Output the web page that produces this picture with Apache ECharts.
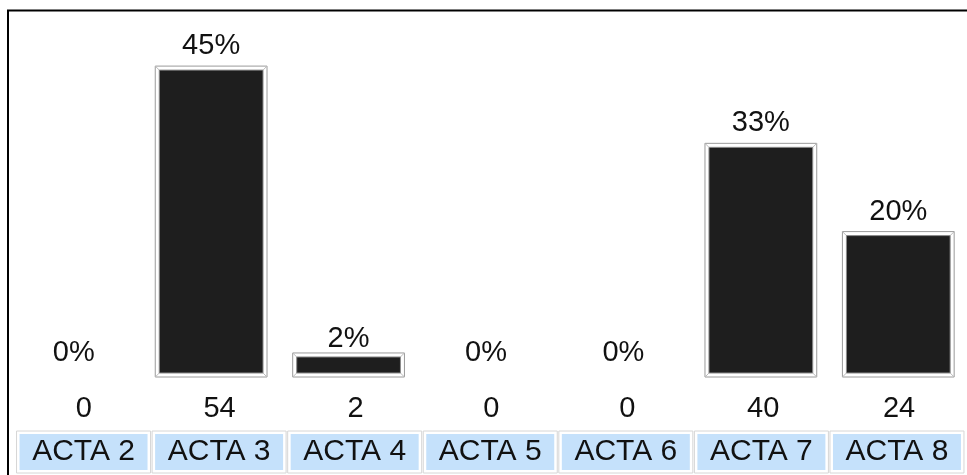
<!DOCTYPE html>
<html>
<head>
<meta charset="utf-8">
<script src="https://cdn.jsdelivr.net/npm/echarts@6/dist/echarts.min.js"></script>
<style>html,body{margin:0;padding:0;background:#fff;}#c{width:967px;height:475px;}</style>
</head>
<body>
<div id="c"></div>
<script>
const categories = ['ACTA 2', 'ACTA 3', 'ACTA 4', 'ACTA 5', 'ACTA 6', 'ACTA 7', 'ACTA 8'];
const counts = [0, 54, 2, 0, 0, 40, 24];
const percents = [0, 45, 2, 0, 0, 33, 20];

const FONT = '"Liberation Sans", Arial, sans-serif';
const chart = echarts.init(document.getElementById('c'), null, {renderer: 'canvas'});

const barData = counts.map((c, i) => [i, c, percents[i]]);

function renderBar(params, api) {
  const i = api.value(0), v = api.value(1), p = api.value(2);
  const topPt = api.coord([i, v]);
  const basePt = api.coord([i, 0]);
  const band = api.size([1, 0])[0];
  const cx = topPt[0];
  const children = [];
  const label = p + '%';
  if (v > 0) {
    const darkW = band * 0.755;
    const outerW = darkW + 8;
    const darkTop = topPt[1];
    const darkBot = basePt[1] + 5;
    const ox = cx - outerW / 2, oy = darkTop - 4, oh = (darkBot - darkTop) + 8;
    const dx = cx - darkW / 2;
    children.push({type: 'rect', shape: {x: ox, y: oy, width: outerW, height: oh},
      style: {fill: '#ffffff', stroke: '#9a9a9a', lineWidth: 1}});
    const ix = dx, iy = darkTop, iw = darkW, ih = darkBot - darkTop;
    [[ox, oy, ix, iy], [ox + outerW, oy, ix + iw, iy], [ox, oy + oh, ix, iy + ih], [ox + outerW, oy + oh, ix + iw, iy + ih]].forEach(s => {
      children.push({type: 'line', shape: {x1: s[0], y1: s[1], x2: s[2], y2: s[3]}, style: {stroke: '#bbbbbb', lineWidth: 1}});
    });
    children.push({type: 'rect', shape: {x: ix, y: iy, width: iw, height: ih},
      style: {fill: '#1e1e1e', stroke: '#8c8c8c', lineWidth: 1}});
    const off = v < 5 ? 18 : 24;
    children.push({type: 'text', style: {text: label, x: cx, y: darkTop - off, align: 'center', verticalAlign: 'middle',
      font: '29px ' + FONT, fill: '#111'}});
  } else {
    children.push({type: 'text', style: {text: label, x: cx, y: basePt[1] - 15, align: 'center', verticalAlign: 'middle',
      font: '29px ' + FONT, fill: '#111'}});
  }
  return {type: 'group', children: children};
}

const hiddenY = (gi, max) => ({type: 'value', gridIndex: gi, min: 0, max: max, show: false});

chart.setOption({
  animation: false,
  backgroundColor: '#ffffff',
  grid: [
    {left: 5, width: 964, top: 37, height: 331},
    {left: 15.75, width: 955.5, top: 370, height: 20},
    {left: 15.75, width: 955.5, top: 411, height: 20}
  ],
  xAxis: [
    {type: 'category', gridIndex: 0, data: categories, show: false},
    {type: 'category', gridIndex: 1, data: categories,
      axisLine: {show: false}, axisTick: {show: false},
      axisLabel: {interval: 0, margin: 4, fontSize: 29, lineHeight: 29, fontFamily: FONT, color: '#111',
        formatter: (val, idx) => String(counts[idx])}},
    {type: 'category', gridIndex: 2, data: categories,
      axisLine: {show: false}, axisTick: {show: false},
      axisLabel: {interval: 0, margin: 0, fontFamily: FONT, fontSize: 30, color: '#111',
        borderColor: '#d6d6d6', borderWidth: 1, padding: 3,
        formatter: (val) => '{b|' + val + '}',
        rich: {b: {backgroundColor: '#c5e1fb', width: 128, height: 36, lineHeight: 36, align: 'center',
          fontSize: 30, fontFamily: FONT, color: '#111'}}}}
  ],
  yAxis: [hiddenY(0, 60), hiddenY(1, 1), hiddenY(2, 1)],
  graphic: [{type: 'rect', shape: {x: 8, y: 10.5, width: 1000, height: 500},
    style: {fill: 'none', stroke: '#000', lineWidth: 2}, silent: true, z: 100}],
  series: [{type: 'custom', xAxisIndex: 0, yAxisIndex: 0, data: barData,
    encode: {x: 0, y: 1}, renderItem: renderBar, clip: false}]
});
</script>
</body>
</html>
